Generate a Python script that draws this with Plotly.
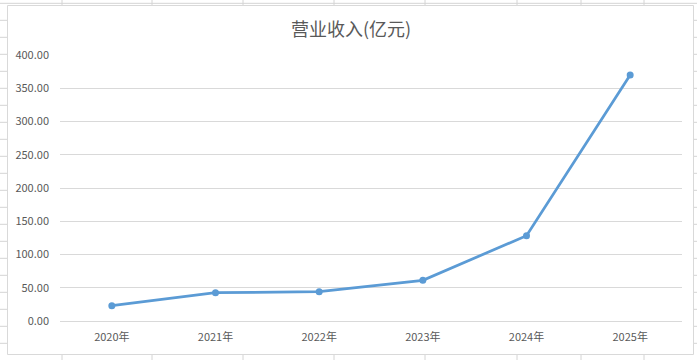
import plotly.graph_objects as go

years = ["2020年", "2021年", "2022年", "2023年", "2024年", "2025年"]
revenue = [23.0, 42.6, 44.1, 61.2, 128.3, 370.0]
title_text = "营业收入(亿元)"

W, H = 697, 360
PL, PR, PT, PB = 60, 682, 55, 321  # plot area in pixels

def px(x):
    return (x - PL) / (PR - PL)

def py(y):
    return (PB - y) / (PB - PT)

FONT = "Noto Sans CJK SC, sans-serif"
GRAY_TXT = "#595959"
GRID = "#D9D9D9"
SHEET = "#D4D4D4"

shapes = []
# spreadsheet grid behind the chart
for xv in [62, 152, 243, 334, 425, 517, 581, 644]:
    shapes.append(dict(type="line", xref="paper", yref="paper",
                       x0=px(xv), x1=px(xv), y0=py(0), y1=py(H),
                       line=dict(color=SHEET, width=1), layer="below"))
y = 3.3
while y < H:
    shapes.append(dict(type="line", xref="paper", yref="paper",
                       x0=px(0), x1=px(W), y0=py(y), y1=py(y),
                       line=dict(color=SHEET, width=1), layer="below"))
    y += 17.0
# chart area
shapes.append(dict(type="rect", xref="paper", yref="paper",
                   x0=px(7.5), x1=px(693.5), y0=py(5.5), y1=py(354.5),
                   fillcolor="white", line=dict(color=GRID, width=1), layer="below"))

fig = go.Figure()
fig.add_trace(go.Scatter(
    x=years, y=revenue, mode="lines+markers",
    line=dict(color="#5B9BD5", width=2.75),
    marker=dict(color="#5B9BD5", size=7, symbol="circle"),
    hoverinfo="x+y", showlegend=False,
))

fig.update_layout(
    width=W, height=H,
    margin=dict(l=PL, r=W - PR, t=PT, b=H - PB, pad=0, autoexpand=False),
    paper_bgcolor="white", plot_bgcolor="rgba(0,0,0,0)",
    font=dict(family=FONT, size=11, color=GRAY_TXT),
    title=dict(text=title_text, x=351 / W, xref="container", xanchor="center",
               y=1 - 29.5 / H, yanchor="middle", automargin=False,
               font=dict(family=FONT, size=18, color=GRAY_TXT)),
    shapes=shapes,
    xaxis=dict(type="category", range=[-0.5, 5.5], showgrid=False,
               showline=False, zeroline=False, ticks="", automargin=False,
               tickfont=dict(size=11, color=GRAY_TXT), ticklabelstandoff=8),
    yaxis=dict(range=[0, 400], dtick=50, tickformat=".2f", automargin=False,
               showgrid=True, gridcolor=GRID, gridwidth=1,
               zeroline=True, zerolinecolor=GRID, zerolinewidth=1,
               showline=False, ticks="",
               tickfont=dict(size=11, color=GRAY_TXT), ticklabelstandoff=10),
)

fig.write_html("out.html",
               config={"displayModeBar": False},
               post_script="document.body.style.margin='0';document.body.style.overflow='hidden';")
